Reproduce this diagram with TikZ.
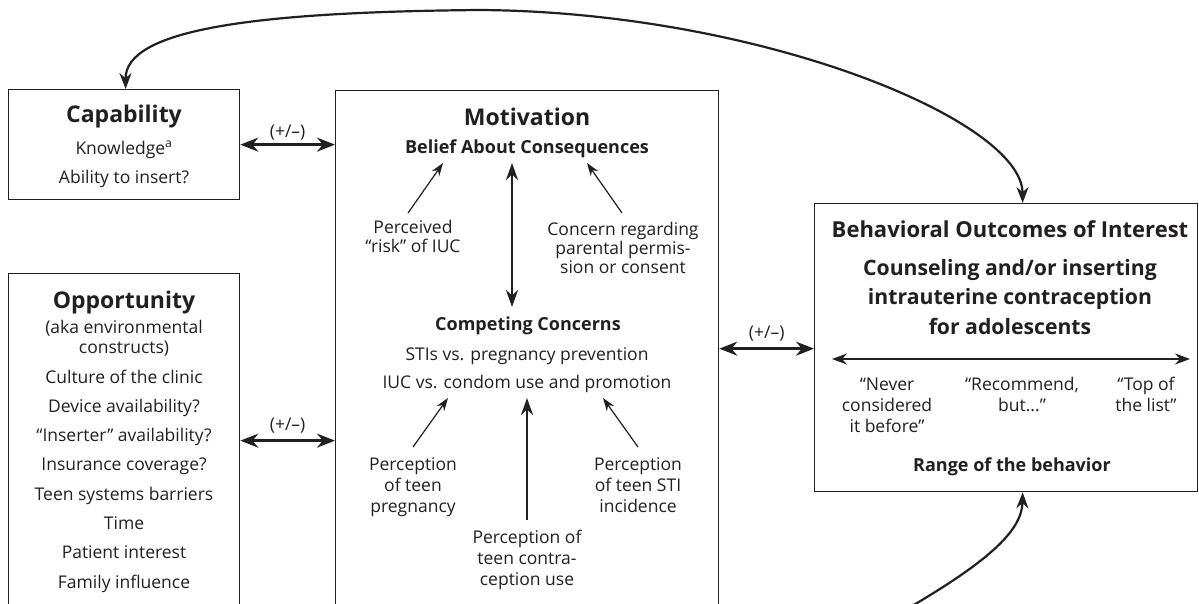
\documentclass[tikz,border=0pt]{standalone}
\usepackage{fontspec}
\setmainfont{Open Sans}
\usetikzlibrary{arrows.meta}
\definecolor{ink}{HTML}{231F20}
\newcommand{\ml}[1]{\begin{tabular}[t]{@{}c@{}}#1\end{tabular}}
\tikzset{
  box/.style={draw=ink, line width=1.3pt, inner sep=0pt, anchor=north west},
  txt/.style={inner sep=0pt, anchor=base, text=ink},
  reg/.style={txt, font=\fontsize{17.5}{21}\selectfont},
  ttl/.style={txt, font=\fontsize{23}{26}\selectfont\bfseries},
  sub/.style={txt, font=\fontsize{18}{22}\selectfont\bfseries},
  dbl/.style={draw=ink, line width=2.6pt, {Stealth[length=18pt,width=14pt]}-{Stealth[length=18pt,width=14pt]}},
  tarrow/.style={draw=ink, line width=1.2pt, -{Stealth[length=13pt,width=9pt]}},
  barrow/.style={draw=ink, line width=2.8pt, -{Stealth[length=17pt,width=12pt]}},
  bdbl/.style={draw=ink, line width=2.8pt, {Stealth[length=17pt,width=12pt]}-{Stealth[length=17pt,width=12pt]}},
  rdbl/.style={draw=ink, line width=1.3pt, {Stealth[length=15pt,width=11pt]}-{Stealth[length=15pt,width=11pt]}},
  curve/.style={draw=ink, line width=2.2pt, -{Stealth[length=16pt,width=12pt]}},
  curve2/.style={draw=ink, line width=2.2pt, {Stealth[length=16pt,width=12pt]}-{Stealth[length=16pt,width=12pt]}},
}
\begin{document}
\begin{tikzpicture}[x=1pt,y=-1pt]
\useasboundingbox (0,0) rectangle (1199,603);
\clip (0,0) rectangle (1199,603);
\fill[white] (0,0) rectangle (1199,603);
% boxes
\node[box, minimum width=231pt, minimum height=110pt] (cap) at (8,89) {};
\node[box, minimum width=231pt, minimum height=334pt] (opp) at (8,273) {};
\node[box, minimum width=383pt, minimum height=516pt] (mot) at (335,90) {};
\node[box, minimum width=383pt, minimum height=288pt] (beh) at (814,203) {};
% capability
\node[ttl] (capt) at (124,122) {Capability};
\node[reg, font=\fontsize{17.5}{29}\selectfont] (capi) at (124,154) {\ml{Knowledge\textsuperscript{a}\\Ability to insert?}};
% opportunity
\node[ttl] (oppt) at (124,308) {Opportunity};
\node[reg, font=\fontsize{17.5}{20}\selectfont] (oppa) at (124,333) {\ml{(aka environmental\\constructs)}};
\node[reg, font=\fontsize{17.5}{29.3}\selectfont] (oppi) at (124,383) {\ml{Culture of the clinic\\Device availability?\\“Inserter” availability?\\Insurance coverage?\\Teen systems barriers\\Time\\Patient interest\\Family influence}};
% motivation
\node[ttl] (mott) at (527,125) {Motivation};
\node[sub] (belief) at (527,153) {Belief About Consequences};
\node[reg, font=\fontsize{17.5}{19.5}\selectfont] (risk) at (413,233) {\ml{Perceived\\“risk” of IUC}};
\node[reg, font=\fontsize{17.5}{19}\selectfont] (parent) at (623,235) {\ml{Concern regarding\\parental permis-\\sion or consent}};
\node[sub] (comp) at (528,330) {Competing Concerns};
\node[reg, font=\fontsize{17.5}{28}\selectfont] (compi) at (527,360) {\ml{STIs vs. pregnancy prevention\\IUC vs. condom use and promotion}};
\node[reg] (ppreg) at (413,470) {\ml{Perception\\of teen\\pregnancy}};
\node[reg] (psti) at (638,470) {\ml{Perception\\of teen STI\\incidence}};
\node[reg] (pcon) at (527,543) {\ml{Perception of\\teen contra-\\ception use}};
% behavioral
\node[txt, font=\fontsize{22}{26}\selectfont\bfseries] (beht) at (1010,237) {Behavioral Outcomes of Interest};
\node[txt, font=\fontsize{21.2}{29.5}\selectfont\bfseries] (behc) at (1010,275) {\ml{Counseling and/or inserting\\intrauterine contraception\\for adolescents}};
\coordinate (rl) at (832,359);
\coordinate (rr) at (1190,359);
\draw[rdbl] (rl) -- (rr);
\node[reg] (never) at (887,390) {\ml{“Never\\considered\\it before”}};
\node[reg] (recom) at (1022,390) {\ml{“Recommend,\\but...”}};
\node[reg] (top) at (1146,390) {\ml{“Top of\\the list”}};
\node[sub] (range) at (1012,471) {Range of the behavior};
% connectors between boxes
\draw[dbl] (cap.east) -- (cap.east -| mot.west) node[midway, reg, anchor=base, yshift=7pt] (l1) {(+/–)};
\draw[dbl] (opp.east) -- (opp.east -| mot.west) node[midway, reg, anchor=base, yshift=10pt] (l2) {(+/–)};
\draw[dbl] (mot.east) -- (mot.east -| beh.west) node[midway, reg, anchor=base, yshift=10pt] (l3) {(+/–)};
% motivation arrows
\draw[tarrow] ([shift={(-5,-20)}]risk.base) -- ([shift={(-84,10)}]belief.base);
\draw[tarrow] ([shift={(-1,-22)}]parent.base) -- ([shift={(60,10)}]belief.base);
\draw[bdbl] ([shift={(-15,10)}]belief.base) -- ([shift={(-16,-23)}]comp.base);
\draw[tarrow] ([shift={(0,-23)}]ppreg.base) -- ([shift={(-79,38)}]compi.base);
\draw[tarrow] ([shift={(0,-23)}]psti.base) -- ([shift={(76,38)}]compi.base);
\draw[barrow] ([shift={(0,-23)}]pcon.base) -- ([shift={(0,38)}]compi.base);
% curves
\draw[curve2] ([xshift=1.5pt]cap.north) .. controls (125,30) and (250,12) .. (480,10)
   .. controls (760,12) and (1022,120) .. ([xshift=16.5pt]beh.north);
\coordinate (bstart) at (912,606);
\draw[curve] (bstart) .. controls (990,560) and (1022,530) .. ([xshift=16.5pt]beh.south);
\end{tikzpicture}
\end{document}
